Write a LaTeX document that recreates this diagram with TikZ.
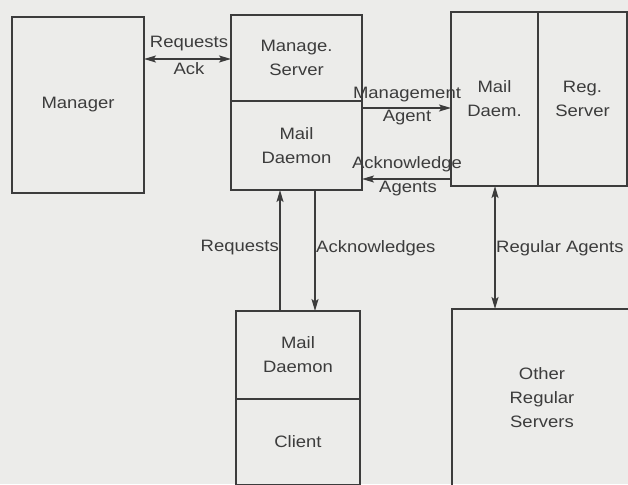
\documentclass[tikz,border=0pt]{standalone}
\usepackage{fontspec}
\setmainfont{Liberation Sans}[FakeStretch=1.12]
\usetikzlibrary{arrows.meta,calc}
\definecolor{ink}{RGB}{60,60,60}
\definecolor{paper}{RGB}{236,236,234}
\begin{document}
\begin{tikzpicture}[x=1pt,y=-1pt,
  box/.style={draw=ink,line width=1.4pt,rectangle,inner sep=0pt,outer sep=0pt,
    align=center,text=ink,font=\fontsize{16.5}{24}\selectfont},
  lbl/.style={inner sep=0pt,text=ink,font=\fontsize{16.5}{24}\selectfont},
  link/.style={draw=ink,line width=1.4pt},
  tip/.tip={Stealth[length=12pt,width=7pt,inset=2.5pt]}]
  % page and background
  \useasboundingbox (0,0) rectangle (628,484);
  \fill[paper] (0,0) rectangle (628,484);
  \begin{scope}
  \clip (0,0) rectangle (628,484);
  % manager
  \node[box,minimum width=132pt,minimum height=176pt] (mgr) at (78,105) {Manager};
  % management server: upper and lower parts
  \node[box,minimum width=131pt,minimum height=86pt] (msrv) at (296.5,58) {Manage.\\Server};
  \node[box,minimum width=131pt,minimum height=89pt] (mdmn) at (296.5,145.5) {Mail\\Daemon};
  % regular server: two side-by-side parts
  \node[box,minimum width=87pt,minimum height=174pt] (rdmn) at (494.5,99) {Mail\\Daem.};
  \node[box,minimum width=89pt,minimum height=174pt] (rsrv) at (582.5,99) {Reg.\\Server};
  % client
  \node[box,minimum width=124pt,minimum height=88pt] (cdmn) at (298,355) {Mail\\Daemon};
  \node[box,minimum width=124pt,minimum height=86pt] (clnt) at (298,442) {Client};
  % other regular servers
  \node[box,minimum width=180pt,minimum height=178pt] (othr) at (542,398) {Other\\Regular\\Servers};
  \end{scope}
  % arrow levels
  \coordinate (ya) at (0,59);
  \coordinate (yb) at (0,108);
  \coordinate (yc) at (0,179);
  \coordinate (xa) at (280,0);
  \coordinate (xb) at (315,0);
  \coordinate (xc) at (495,0);
  % connectors
  \draw[link,{tip}-{tip}] (mgr.east |- ya) -- (msrv.west |- ya);
  \draw[link,-{tip}] (mdmn.east |- yb) -- (rdmn.west |- yb);
  \draw[link,-{tip}] (rdmn.west |- yc) -- (mdmn.east |- yc);
  \draw[link,-{tip}] (cdmn.north -| xa) -- (mdmn.south -| xa);
  \draw[link,-{tip}] (mdmn.south -| xb) -- (cdmn.north -| xb);
  \draw[link,{tip}-{tip}] (rdmn.south -| xc) -- (othr.north -| xc);
  % labels
  \node[lbl] (l1) at (189,44) {Requests};
  \node[lbl] (l2) at (189,69) {Ack};
  \node[lbl] (l3) at (407,95) {Management};
  \node[lbl] (l4) at (407,118) {Agent};
  \node[lbl] (l5) at (407,164) {Acknowledge};
  \node[lbl] (l6) at (408,189) {Agents};
  \node[lbl,anchor=east] (l7) at (279,248) {Requests};
  \node[lbl,anchor=west] (l8) at (316,248) {Acknowledges};
  \node[lbl,anchor=west] (l9) at (496,248) {Regular Agents};
\end{tikzpicture}
\end{document}
